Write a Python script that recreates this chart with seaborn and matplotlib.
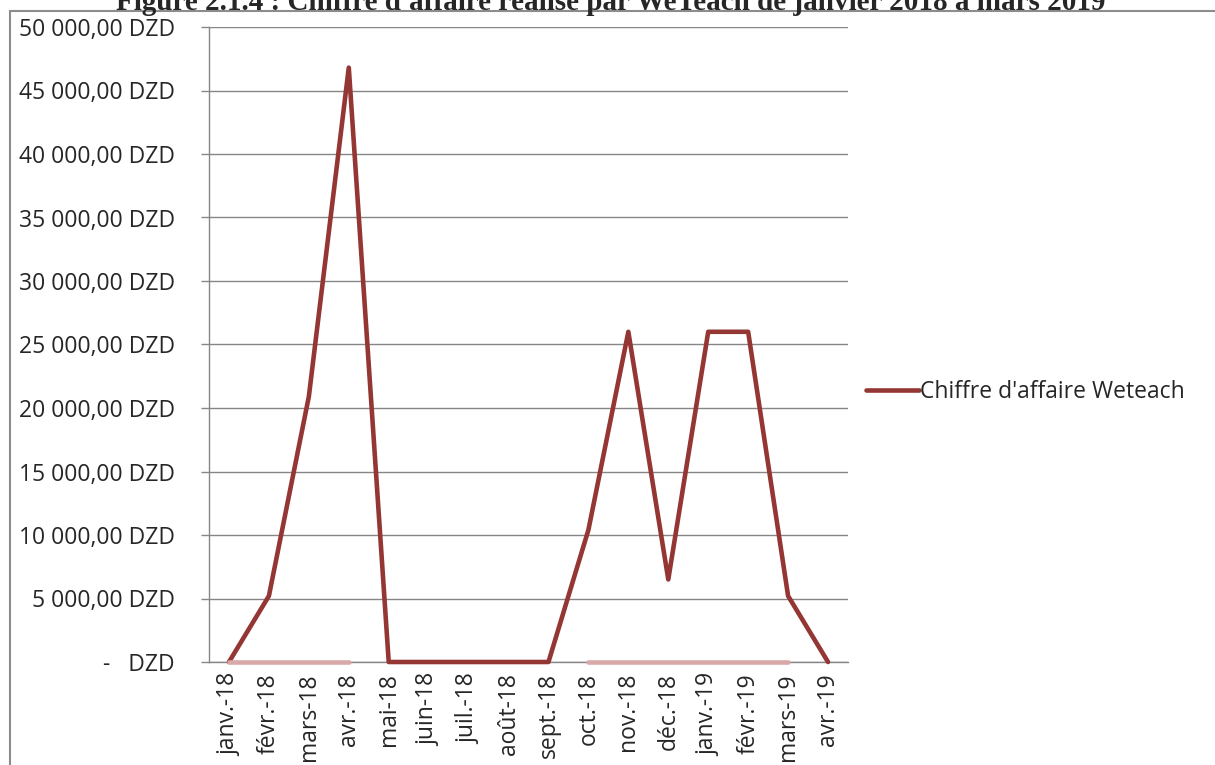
import matplotlib
matplotlib.use("Agg")
import matplotlib.pyplot as plt
import seaborn as sns
import pandas as pd
import numpy as np
from matplotlib.patches import Rectangle

months = ["janv.-18", "févr.-18", "mars-18", "avr.-18", "mai-18", "juin-18",
          "juil.-18", "août-18", "sept.-18", "oct.-18", "nov.-18", "déc.-18",
          "janv.-19", "févr.-19", "mars-19", "avr.-19"]
revenue = [0, 5200, 20900, 46800, 0, 0, 0, 0, 0, 10400, 26000, 6500,
           26000, 26000, 5200, 0]
# light series lying on zero (not in legend)
zero_series = [0, 0, 0, 0, np.nan, np.nan, np.nan, np.nan, np.nan,
               0, 0, 0, 0, 0, 0, np.nan]
y_ticks = [0, 5000, 10000, 15000, 20000, 25000, 30000, 35000, 40000, 45000, 50000]

df = pd.DataFrame({"mois": months, "ca": revenue, "zero": zero_series})
df["pos"] = range(len(months))

sns.set_style("white")
plt.rcParams["font.family"] = ["Open Sans", "DejaVu Sans"]

fig = plt.figure(figsize=(12.15, 7.65), dpi=100)
ax = fig.add_axes([209 / 1215, 1 - 662 / 765, (848 - 209) / 1215, (662 - 27) / 765])

grey = "#868686"
sns.lineplot(data=df, x="pos", y="ca", ax=ax, color="#943634", linewidth=3.3,
             label="Chiffre d'affaire Weteach", zorder=3, clip_on=False)
ax.plot(df["pos"], df["zero"], color="#D9A9A9", linewidth=3.3,
        solid_capstyle="round", zorder=4, clip_on=False)

ax.set_xlim(-0.5, len(months) - 0.5)
ax.set_ylim(0, 50000)
ax.set_yticks(y_ticks)
ax.set_yticklabels(["-   DZD" if v == 0 else f"{v:,.2f}".replace(",", " ").replace(".", ",") + " DZD"
                    for v in y_ticks], fontsize=16.5)
ax.yaxis.grid(True, color=grey, linewidth=1)
ax.set_axisbelow(True)

ax.set_xticks(range(len(months)))
ax.set_xticklabels(months, rotation=90, fontsize=16.5)
ax.set_xticks(np.arange(-0.5, len(months)), minor=True)
ax.tick_params(axis="x", which="major", length=0, pad=8)
ax.tick_params(axis="x", which="minor", length=6, color=grey, width=1)
ax.tick_params(axis="y", length=6, color=grey, width=1, left=True, pad=18.5)
ax.set_xlabel("")
ax.set_ylabel("")

for side in ["top", "right"]:
    ax.spines[side].set_visible(False)
for side in ["left", "bottom"]:
    ax.spines[side].set_color(grey)
    ax.spines[side].set_linewidth(1)

leg = ax.legend(loc="center left", bbox_to_anchor=(1.0, 0.425), frameon=False,
                fontsize=16.5, handlelength=2.3, handletextpad=0.05,
                borderaxespad=0.4)

fig.patches.append(Rectangle((10 / 1215, -0.1), 1.2, 1 - 11 / 765 + 0.1,
                             transform=fig.transFigure, fill=False,
                             edgecolor="#8c8c8c", linewidth=1.5, zorder=0))

fig.text(0.503, 1 - 10 / 765,
         "Figure 2.1.4 : Chiffre d'affaire réalisé par WeTeach de janvier 2018 à mars 2019",
         ha="center", va="baseline", fontsize=21, fontweight="bold",
         family="Liberation Serif")

fig.savefig("out.png", dpi=100)
